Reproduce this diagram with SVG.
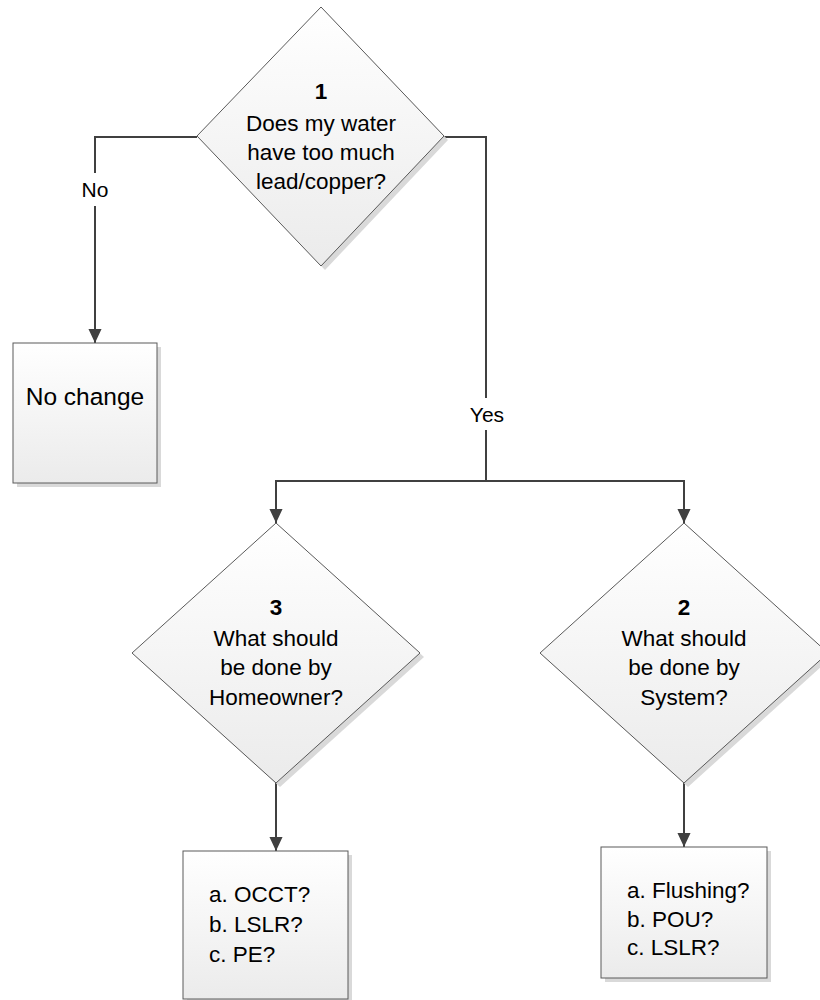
<svg xmlns="http://www.w3.org/2000/svg" width="820" height="1000" viewBox="0 0 820 1000">
<defs>
<linearGradient id="fillg" x1="0" y1="0" x2="0" y2="1">
<stop offset="0" stop-color="#ffffff"/>
<stop offset="1" stop-color="#ebebeb"/>
</linearGradient>
<marker id="arr" markerUnits="userSpaceOnUse" markerWidth="14" markerHeight="16" refX="15" refY="7" orient="auto" viewBox="0 0 15 14">
<path d="M0,0 L15,7 L0,14 Z" fill="#404040"/>
</marker>
</defs>
<style>
.shape{fill:url(#fillg);stroke:#5a5a5a;stroke-width:1}
.shadow{fill:#d9d9d9}
.conn{fill:none;stroke:#404040;stroke-width:2}
.t{font-family:"Liberation Sans",Arial,sans-serif;font-size:22.5px;fill:#000}
.lbl{font-size:21px}
.big{font-size:24.5px}
.c{text-anchor:middle}
.b{font-weight:bold}
</style>
<rect width="820" height="1000" fill="#ffffff"/>

<g id="connectors">
<path class="conn" d="M197,137 H95 V173"/>
<path class="conn" d="M95,206 V343" marker-end="url(#arr)"/>
<path class="conn" d="M444,137 H486 V398"/>
<path class="conn" d="M486,430 V481"/>
<path class="conn" d="M276,481 H684"/>
<path class="conn" d="M276,480 V523" marker-end="url(#arr)"/>
<path class="conn" d="M684,480 V523" marker-end="url(#arr)"/>
<path class="conn" d="M276,783 V851" marker-end="url(#arr)"/>
<path class="conn" d="M684,783 V847" marker-end="url(#arr)"/>
<text class="t c lbl" x="95" y="197">No</text>
<text class="t c lbl" x="487" y="422">Yes</text>
</g>

<g id="node1">
<polygon class="shadow" points="325,11 448,140 325,270 201,140"/>
<polygon class="shape" points="321,7 444,136 321,266 197,136"/>
<text class="t c b" x="321" y="99">1</text>
<text class="t c" x="321" y="131">Does my water</text>
<text class="t c" x="321" y="160">have too much</text>
<text class="t c" x="321" y="189">lead/copper?</text>
</g>

<g id="nochange">
<rect class="shadow" x="17" y="347" width="144" height="140"/>
<rect class="shape" x="13" y="343" width="144" height="140"/>
<text class="t c big" x="85" y="405">No change</text>
</g>

<g id="node3">
<polygon class="shadow" points="280,527 424,657 280,787 136,657"/>
<polygon class="shape" points="276,523 420,653 276,783 132,653"/>
<text class="t c b" x="276" y="615">3</text>
<text class="t c" x="276" y="646">What should</text>
<text class="t c" x="276" y="675">be done by</text>
<text class="t c" x="276" y="705">Homeowner?</text>
</g>

<g id="node2">
<polygon class="shadow" points="688,527 832,657 688,787 544,657"/>
<polygon class="shape" points="684,523 828,653 684,783 540,653"/>
<text class="t c b" x="684" y="615">2</text>
<text class="t c" x="684" y="646">What should</text>
<text class="t c" x="684" y="675">be done by</text>
<text class="t c" x="684" y="705">System?</text>
</g>

<g id="box3">
<rect class="shadow" x="187" y="855" width="165" height="148"/>
<rect class="shape" x="183" y="851" width="165" height="148"/>
<text class="t" x="209" y="902">a. OCCT?</text>
<text class="t" x="209" y="932">b. LSLR?</text>
<text class="t" x="209" y="962">c. PE?</text>
</g>

<g id="box2">
<rect class="shadow" x="605" y="851" width="166" height="131"/>
<rect class="shape" x="601" y="847" width="166" height="131"/>
<text class="t" x="627" y="898">a. Flushing?</text>
<text class="t" x="627" y="927">b. POU?</text>
<text class="t" x="627" y="955">c. LSLR?</text>
</g>
</svg>
